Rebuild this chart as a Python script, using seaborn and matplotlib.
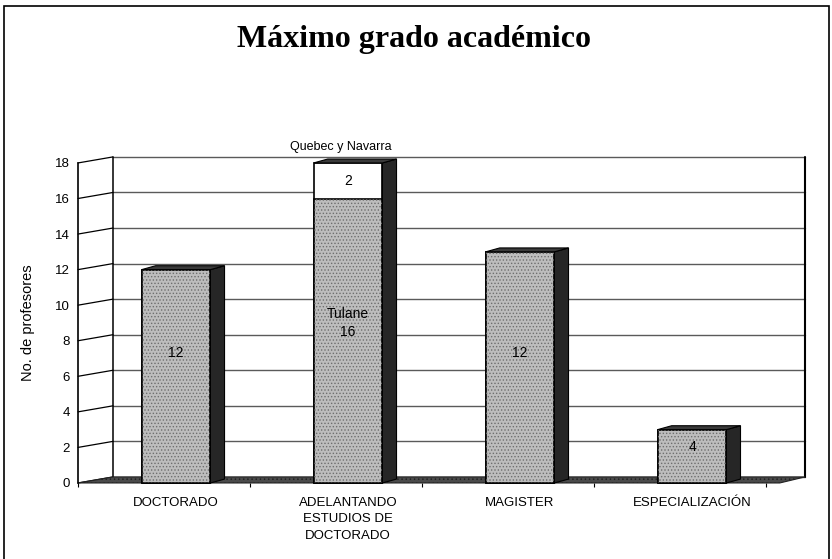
import seaborn as sns
import matplotlib.pyplot as plt
from matplotlib.patches import Polygon, Rectangle

# data
categories = ['DOCTORADO', 'ADELANTANDO\nESTUDIOS DE\nDOCTORADO', 'MAGISTER', 'ESPECIALIZACIÓN']
base_height = [12, 16, 13, 3]      # drawn height of the grey part
extra_height = [0, 2, 0, 0]        # white "Quebec y Navarra" segment
bar_labels = ['12', 'Tulane\n16', '12', '4']
label_y = [7.3, 9.0, 7.3, 2.0]
yticks = list(range(0, 19, 2))

sns.set_theme(style='white')
plt.rcParams['font.family'] = ['Liberation Sans', 'DejaVu Sans']
plt.rcParams['text.color'] = 'black'
plt.rcParams['axes.labelcolor'] = 'black'
plt.rcParams['xtick.color'] = 'black'
plt.rcParams['ytick.color'] = 'black'
plt.rcParams['hatch.linewidth'] = 0.6

fig = plt.figure(figsize=(8.32, 5.59), dpi=100)
ax = fig.add_axes([0.09375, 0.136, 0.8738, 0.5725])

totals = [b + e for b, e in zip(base_height, extra_height)]
x = list(range(len(categories)))

# white total bars first, grey lower part on top of them
sns.barplot(x=x, y=totals, color='white', saturation=1, width=0.4,
            edgecolor='black', linewidth=1.2, ax=ax, zorder=3)
n_tot = len(ax.patches)
sns.barplot(x=x, y=base_height, color='#bdbdbd', saturation=1, width=0.4,
            edgecolor='black', linewidth=1.2, ax=ax, zorder=3)
grey_bars = ax.patches[n_tot:]

xmin, xmax = -0.57, 3.657
ax.set_xlim(xmin, xmax)
ax.set_ylim(0, 18)

# 3d depth of the back wall and of the bars (data units)
wdx, wdy = 0.2035, 0.34
bdx, bdy = 0.082, 0.22

# back wall grid and connectors to the front axis
for t in yticks:
    ax.plot([xmin + wdx, xmax], [t + wdy, t + wdy], color='#5a5a5a', lw=1.0,
            zorder=1, clip_on=False)
    ax.plot([xmin, xmin + wdx], [t, t + wdy], color='black', lw=0.9,
            zorder=1, clip_on=False)
ax.plot([xmin + wdx, xmin + wdx], [wdy, 18 + wdy], color='black', lw=1.1,
        zorder=1, clip_on=False)
ax.plot([xmax, xmax], [wdy, 18 + wdy], color='black', lw=1.5,
        zorder=1, clip_on=False)

# floor
floor = Polygon([(xmin, 0), (3.51, 0), (xmax, wdy), (xmin + wdx, wdy)],
                closed=True, facecolor='#4a4a4a', edgecolor='#222222',
                lw=0.8, zorder=2, clip_on=False, hatch='....')
ax.add_patch(floor)

# stipple texture on the grey faces
for p in grey_bars:
    ax.add_patch(Rectangle((p.get_x(), 0), p.get_width(), p.get_height(),
                           facecolor='none', edgecolor='#6e6e6e', lw=0,
                           hatch='.....', zorder=3.5, clip_on=False))

# side and top faces derived from the seaborn bars
for p in ax.patches[:n_tot]:
    x0, w, h = p.get_x(), p.get_width(), p.get_height()
    side = Polygon([(x0 + w, 0), (x0 + w + bdx, bdy), (x0 + w + bdx, h + bdy), (x0 + w, h)],
                   closed=True, facecolor='#262626', edgecolor='black', lw=0.8,
                   zorder=3, clip_on=False)
    top = Polygon([(x0, h), (x0 + bdx, h + bdy), (x0 + w + bdx, h + bdy), (x0 + w, h)],
                  closed=True, facecolor='#3a3a3a', edgecolor='black', lw=0.8,
                  zorder=3, clip_on=False)
    ax.add_patch(side)
    ax.add_patch(top)

for p in ax.patches:
    p.set_clip_on(False)

# value labels inside bars
for i, (lab, yy) in enumerate(zip(bar_labels, label_y)):
    ax.text(i, yy, lab, ha='center', va='center', fontsize=10,
            color='black', zorder=5, linespacing=1.3)
ax.text(1, base_height[1] + extra_height[1] / 2, str(extra_height[1]),
        ha='center', va='center', fontsize=10, zorder=5)
ax.text(0.96, 18.9, 'Quebec y Navarra', ha='center', va='center',
        fontsize=9, zorder=5)

# axes styling
sns.despine(ax=ax, top=True, right=True, bottom=True, left=False)
ax.spines['left'].set_color('black')
ax.spines['left'].set_linewidth(1.2)
ax.set_yticks(yticks)
ax.set_yticklabels([str(t) for t in yticks], fontsize=9.5)
ax.tick_params(axis='y', direction='out', length=3, width=0.8, color='black', pad=3)
ax.set_xticks(x)
ax.set_xticklabels(categories, fontsize=9.5, linespacing=1.5, va='top')
ax.tick_params(axis='x', length=0, pad=10)
ax.set_xticks([xmin, 0.43, 1.43, 2.43, 3.43], minor=True)
ax.tick_params(axis='x', which='minor', length=3, width=0.8, color='black',
               direction='out', bottom=True)
ax.set_ylabel('No. de profesores', fontsize=10.5, labelpad=14)
ax.set_xlabel('')
ax.grid(False)

fig.text(0.498, 0.93, 'Máximo grado académico', ha='center', va='center',
         fontsize=23, fontweight='bold', color='black',
         family=['Liberation Serif', 'DejaVu Serif'])

# outer frame
fig.patches.append(Rectangle((0.005, -0.01), 0.991, 1.0, transform=fig.transFigure,
                             fill=False, edgecolor='black', lw=1.2))

fig.savefig('out.png', dpi=100)
